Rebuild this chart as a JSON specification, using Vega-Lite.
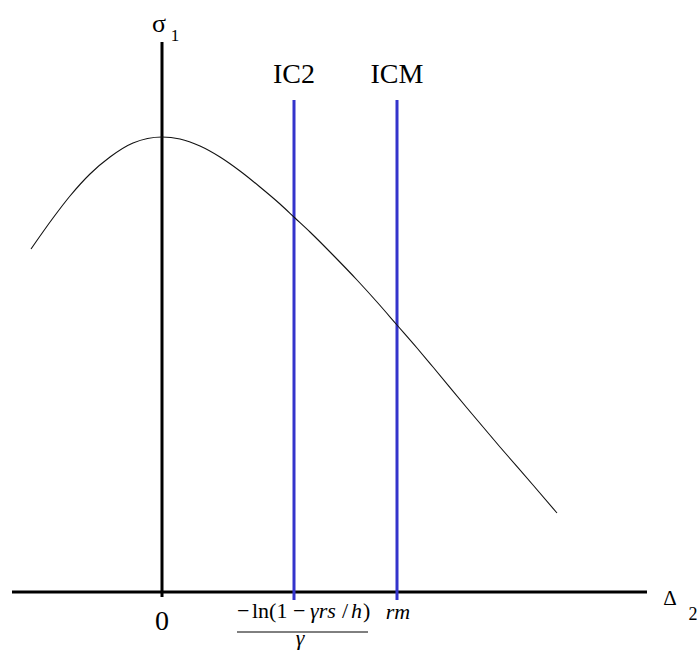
{
  "$schema": "https://vega.github.io/schema/vega-lite/v6.json",
  "width": 700,
  "height": 653,
  "padding": 0,
  "autosize": {"type": "none"},
  "background": "white",
  "config": {
    "view": {"stroke": null},
    "text": {"font": "'Times New Roman', 'Liberation Serif', Times, serif", "color": "black", "baseline": "alphabetic"}
  },
  "datasets": {
    "curve": [
      {"d2": -1.31, "s1": 3.43},
      {"d2": -1.09, "s1": 3.74},
      {"d2": -0.92, "s1": 3.96},
      {"d2": -0.72, "s1": 4.18},
      {"d2": -0.52, "s1": 4.35},
      {"d2": -0.29, "s1": 4.49},
      {"d2": 0.0, "s1": 4.55},
      {"d2": 0.18, "s1": 4.53},
      {"d2": 0.38, "s1": 4.46},
      {"d2": 0.58, "s1": 4.35},
      {"d2": 0.78, "s1": 4.21},
      {"d2": 0.98, "s1": 4.05},
      {"d2": 1.18, "s1": 3.88},
      {"d2": 1.33, "s1": 3.74},
      {"d2": 1.48, "s1": 3.6},
      {"d2": 1.71, "s1": 3.37},
      {"d2": 1.95, "s1": 3.12},
      {"d2": 2.15, "s1": 2.9},
      {"d2": 2.35, "s1": 2.67},
      {"d2": 2.55, "s1": 2.44},
      {"d2": 2.71, "s1": 2.25},
      {"d2": 3.05, "s1": 1.84},
      {"d2": 3.38, "s1": 1.45},
      {"d2": 3.71, "s1": 1.07},
      {"d2": 3.95, "s1": 0.79}
    ],
    "levels": [
      {"d2": 1.32, "name": "IC2", "lo": -0.08, "hi": 4.92},
      {"d2": 2.35, "name": "ICM", "lo": -0.08, "hi": 4.92}
    ]
  },
  "encoding": {
    "x": {"type": "quantitative", "scale": {"domain": [-1.62, 5.38], "nice": false, "zero": false}, "axis": null},
    "y": {"type": "quantitative", "scale": {"domain": [-0.61, 5.92], "nice": false, "zero": false}, "axis": null}
  },
  "layer": [
    {
      "data": {"values": [{"a": -1.5, "b": 4.85, "v": 0}]},
      "mark": {"type": "rule", "color": "black", "strokeWidth": 3},
      "encoding": {"x": {"field": "a"}, "x2": {"field": "b"}, "y": {"field": "v"}}
    },
    {
      "data": {"values": [{"h": 0, "a": -0.05, "b": 5.5}]},
      "mark": {"type": "rule", "color": "black", "strokeWidth": 3},
      "encoding": {"x": {"field": "h"}, "y": {"field": "a"}, "y2": {"field": "b"}}
    },
    {
      "data": {"name": "levels"},
      "mark": {"type": "rule", "color": "#3434cc", "strokeWidth": 3},
      "encoding": {"x": {"field": "d2"}, "y": {"field": "lo"}, "y2": {"field": "hi"}}
    },
    {
      "data": {"name": "curve"},
      "mark": {"type": "line", "color": "#111111", "strokeWidth": 1.1, "interpolate": "monotone"},
      "encoding": {"x": {"field": "d2"}, "y": {"field": "s1"}}
    },
    {
      "data": {"name": "levels"},
      "mark": {"type": "text", "fontSize": 28, "align": "center"},
      "encoding": {"x": {"field": "d2"}, "y": {"datum": 5.09}, "text": {"field": "name"}}
    },
    {
      "data": {"values": [{"t": "σ", "px": -0.03, "py": 5.6}]},
      "mark": {"type": "text", "fontSize": 26, "align": "center"},
      "encoding": {"x": {"field": "px"}, "y": {"field": "py"}, "text": {"field": "t"}}
    },
    {
      "data": {"values": [{"t": "1", "px": 0.13, "py": 5.51}]},
      "mark": {"type": "text", "fontSize": 17, "align": "center"},
      "encoding": {"x": {"field": "px"}, "y": {"field": "py"}, "text": {"field": "t"}}
    },
    {
      "data": {"values": [{"t": "Δ", "px": 5.08, "py": -0.13}]},
      "mark": {"type": "text", "fontSize": 21, "align": "center"},
      "encoding": {"x": {"field": "px"}, "y": {"field": "py"}, "text": {"field": "t"}}
    },
    {
      "data": {"values": [{"t": "2", "px": 5.31, "py": -0.28}]},
      "mark": {"type": "text", "fontSize": 18, "align": "center"},
      "encoding": {"x": {"field": "px"}, "y": {"field": "py"}, "text": {"field": "t"}}
    },
    {
      "data": {"values": [{"t": "0", "px": 0, "py": -0.38}]},
      "mark": {"type": "text", "fontSize": 28, "align": "center"},
      "encoding": {"x": {"field": "px"}, "y": {"field": "py"}, "text": {"field": "t"}}
    },
    {
      "data": {"values": [
        {"t": "−", "px": 0.75},
        {"t": "ln(1", "px": 0.9},
        {"t": "−", "px": 1.31},
        {"t": "/", "px": 1.8},
        {"t": ")", "px": 2.01}
      ]},
      "mark": {"type": "text", "fontSize": 22, "align": "left"},
      "encoding": {"x": {"field": "px"}, "y": {"datum": -0.26}, "text": {"field": "t"}}
    },
    {
      "data": {"values": [
        {"t": "γrs", "px": 1.48},
        {"t": "h", "px": 1.89}
      ]},
      "mark": {"type": "text", "fontSize": 22, "fontStyle": "italic", "align": "left"},
      "encoding": {"x": {"field": "px"}, "y": {"datum": -0.26}, "text": {"field": "t"}}
    },
    {
      "data": {"values": [{"a": 0.75, "b": 2.06, "v": -0.4}]},
      "mark": {"type": "rule", "color": "black", "strokeWidth": 1},
      "encoding": {"x": {"field": "a"}, "x2": {"field": "b"}, "y": {"field": "v"}}
    },
    {
      "data": {"values": [{"t": "γ", "px": 1.38, "py": -0.53}]},
      "mark": {"type": "text", "fontSize": 22, "fontStyle": "italic", "align": "center"},
      "encoding": {"x": {"field": "px"}, "y": {"field": "py"}, "text": {"field": "t"}}
    },
    {
      "data": {"values": [{"t": "rm", "px": 2.36, "py": -0.27}]},
      "mark": {"type": "text", "fontSize": 22, "fontStyle": "italic", "align": "center"},
      "encoding": {"x": {"field": "px"}, "y": {"field": "py"}, "text": {"field": "t"}}
    }
  ]
}
